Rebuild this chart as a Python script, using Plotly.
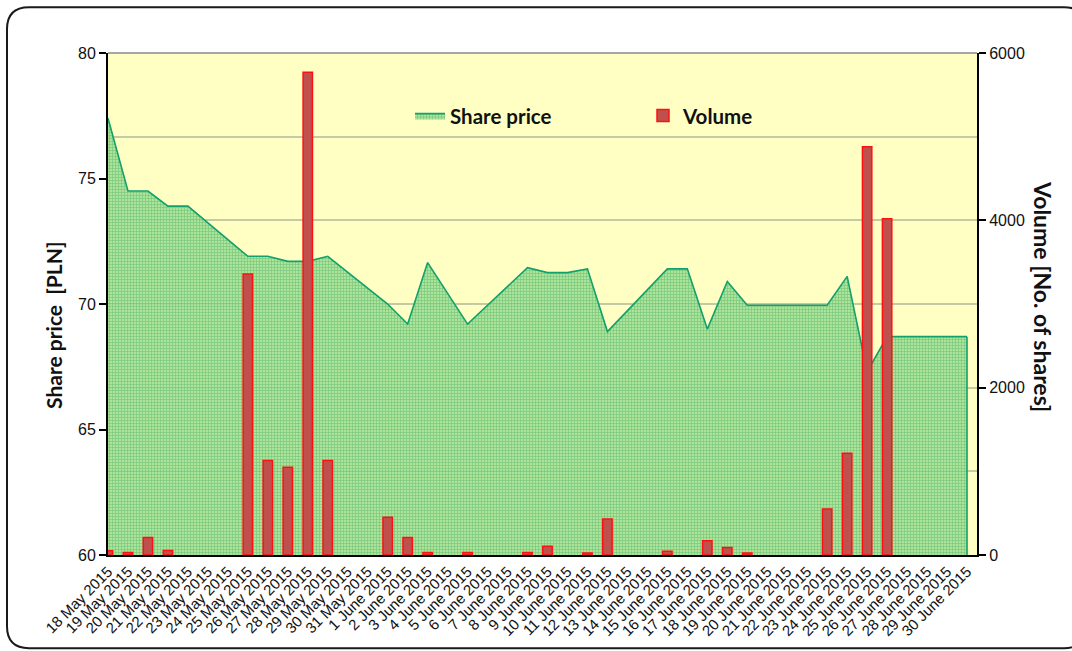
import plotly.graph_objects as go

# ---------------- data ----------------
dates = [
    "18 May 2015", "19 May 2015", "20 May 2015", "21 May 2015", "22 May 2015",
    "23 May 2015", "24 May 2015", "25 May 2015", "26 May 2015", "27 May 2015",
    "28 May 2015", "29 May 2015", "30 May 2015", "31 May 2015", "1 June 2015",
    "2 June 2015", "3 June 2015", "4 June 2015", "5 June 2015", "6 June 2015",
    "7 June 2015", "8 June 2015", "9 June 2015", "10 June 2015", "11 June 2015",
    "12 June 2015", "13 June 2015", "14 June 2015", "15 June 2015", "16 June 2015",
    "17 June 2015", "18 June 2015", "19 June 2015", "20 June 2015", "21 June 2015",
    "22 June 2015", "23 June 2015", "24 June 2015", "25 June 2015", "26 June 2015",
    "27 June 2015", "28 June 2015", "29 June 2015", "30 June 2015",
]

# share price [PLN] (None = no session)
share_price = [
    77.4, 74.5, 74.5, 73.9, 73.9,
    None, None, 71.9, 71.9, 71.7,
    71.7, 71.9, None, None, 70.0,
    69.2, 71.65, None, 69.2, None,
    None, 71.45, 71.25, 71.25, 71.4,
    68.9, None, None, 71.4, 71.4,
    69.0, 70.9, 69.95, None, None,
    69.95, 69.95, 71.1, 67.3, 68.7,
    None, None, 68.7, 68.7,
]

# volume [No. of shares]
volume = [
    50, 30, 210, 55, None,
    None, None, 3360, 1130, 1050,
    5770, 1130, None, None, 450,
    210, 30, None, 30, None,
    None, 30, 105, None, 25,
    430, None, None, 45, None,
    170, 90, 25, None, None,
    None, 550, 1215, 4880, 4020,
    None, None, None, None,
]

price_range = [60, 80]
price_ticks = [60, 65, 70, 75, 80]
volume_range = [0, 6000]
volume_ticks = [0, 2000, 4000, 6000]

# ---------------- layout geometry (screen pixels) ----------------
W, H = 1072, 651
REF_L, REF_R, REF_T, REF_B = 108, 977, 53, 557
ML, MT = REF_L, REF_T
MR, MB = W - REF_R, H - REF_B
PW, PH = REF_R - REF_L, REF_B - REF_T


def px(x):
    return (x - REF_L) / PW


def py(y):
    return (REF_B - y) / PH


fig = go.Figure()

# share price area
fig.add_trace(go.Scatter(
    x=dates, y=share_price, name="Share price",
    mode="lines", connectgaps=True,
    line=dict(color="#12a06c", width=1.6),
    fill="tozeroy",
    fillcolor="rgba(150,216,135,0.9)",
    fillpattern=dict(shape="+", size=3, solidity=0.4,
                     fgcolor="rgba(35,155,90,0.8)",
                     bgcolor="rgba(165,225,148,0.9)"),
    yaxis="y", xaxis="x",
))
# right closing edge of the area
last = len(dates) - 1
fig.add_trace(go.Scatter(
    x=[dates[last], dates[last]], y=[price_range[0], share_price[last]],
    mode="lines", line=dict(color="#12a06c", width=1.6),
    showlegend=False, hoverinfo="skip", yaxis="y",
))

# volume bars
fig.add_trace(go.Bar(
    x=dates, y=volume, name="Volume",
    marker=dict(color="#c0504d", line=dict(color="#ff1010", width=1.5)),
    width=0.47, yaxis="y2",
))

tick_font = dict(family="Liberation Sans, Arial, sans-serif", size=16, color="#111")
title_font = dict(family="Lato, sans-serif", size=21, color="#111", weight="bold")

# rounded outer border
L, T, R, B, r = 7, 7, 1086, 650.5, 22
path = (
    f"M {px(L + r)},{py(T)} L {px(R - r)},{py(T)} "
    f"Q {px(R)},{py(T)} {px(R)},{py(T + r)} "
    f"L {px(R)},{py(B - r)} Q {px(R)},{py(B)} {px(R - r)},{py(B)} "
    f"L {px(L + r)},{py(B)} Q {px(L)},{py(B)} {px(L)},{py(B - r)} "
    f"L {px(L)},{py(T + r)} Q {px(L)},{py(T)} {px(L + r)},{py(T)} Z"
)

fig.update_layout(
    width=W, height=H,
    margin=dict(l=ML, r=MR, t=MT, b=MB),
    paper_bgcolor="white",
    plot_bgcolor="#ffffc4",
    xaxis=dict(
        type="category", range=[0, last + 0.5],
        tickangle=-45,
        tickfont=dict(family="Liberation Sans, Arial, sans-serif", size=15, color="#111"),
        showgrid=False, showline=True, linecolor="black", linewidth=2,
        ticks="", zeroline=False,
    ),
    yaxis=dict(
        range=price_range, tickvals=price_ticks, tickfont=tick_font,
        showgrid=False, zeroline=False,
        showline=True, linecolor="black", linewidth=2,
        ticks="outside", ticklen=7, tickwidth=2, tickcolor="black",
    ),
    yaxis2=dict(
        range=volume_range, tickvals=volume_ticks, tickfont=tick_font,
        overlaying="y", side="right",
        showgrid=True, gridcolor="#c4caa4", gridwidth=1.5,
        minor=dict(dtick=1000, showgrid=True, gridcolor="#c4caa4", gridwidth=1.5),
        zeroline=False,
        showline=True, linecolor="black", linewidth=2,
        ticks="outside", ticklen=7, tickwidth=2, tickcolor="black",
    ),
    legend=dict(
        orientation="h", x=px(410), xanchor="left", y=py(116), yanchor="middle",
        bgcolor="rgba(0,0,0,0)",
        font=dict(family="Lato, sans-serif", size=20.5, color="#111", weight="bold"),
        entrywidth=188, entrywidthmode="pixels", itemwidth=30,
        traceorder="normal",
    ),
    shapes=[
        dict(type="line", xref="paper", yref="paper", x0=0, x1=1, y0=1, y1=1,
             line=dict(color="#8a8a8a", width=1.5)),
        dict(type="path", xref="paper", yref="paper", path=path,
             line=dict(color="#1a1a1a", width=2)),
    ],
    annotations=[
        dict(text="Share price  [PLN]", xref="paper", yref="paper",
             x=px(54), y=py(327), textangle=-90, showarrow=False,
             font=title_font, xanchor="center", yanchor="middle"),
        dict(text="Volume [No. of shares]", xref="paper", yref="paper",
             x=px(1043), y=py(297), textangle=90, showarrow=False,
             font=dict(title_font, size=23), xanchor="center", yanchor="middle"),
    ],
)

fig.write_html(
    "out.html",
    config={"displayModeBar": False},
    post_script="document.body.style.margin='0';document.body.style.overflow='hidden';",
)
